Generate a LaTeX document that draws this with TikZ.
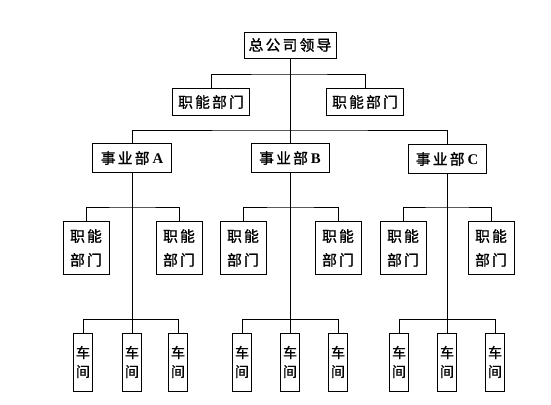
\documentclass[tikz,border=0pt]{standalone}
\usepackage{fontspec}
\setmainfont{Liberation Serif}
\newfontfamily\cjk[LetterSpace=15,FakeBold=1.2]{Noto Sans CJK SC}
\newfontfamily\cjkplain[FakeBold=1.2]{Noto Sans CJK SC}

\tikzset{
  box/.style={draw, line width=0.7pt, inner sep=0pt, font=\cjk\fontsize{10.5pt}{12pt}\selectfont},
  leadbox/.style={box, minimum width=2.3cm, minimum height=0.65cm},
  staffbox/.style={box, minimum width=1.925cm, minimum height=0.675cm},
  divbox/.style={box, minimum width=1.95cm, minimum height=0.725cm},
  unitbox/.style={box, align=center, minimum width=1.15cm, minimum height=1.325cm,
    font=\cjk\fontsize{10.5pt}{17pt}\selectfont},
  shopbox/.style={box, align=center, minimum width=0.475cm, minimum height=1.45cm,
    font=\cjkplain\fontsize{10pt}{13.5pt}\selectfont},
  link/.style={line width=0.7pt}
}
\newcommand{\lat}[1]{{\normalfont\bfseries\hspace{0.2em}#1}}

\begin{document}
\begin{tikzpicture}[x=0.025cm,y=-0.025cm]
            \useasboundingbox (0,0) rectangle (551,404);

            \node[leadbox] (lead) at (290,45) {总公司领导};
            \node[staffbox] (staffL) at (211,102) {职能部门};
            \node[staffbox] (staffR) at (365,102) {职能部门};

            \node[divbox] (divA) at (132,158) {事业部\lat{A}};
            \node[divbox] (divB) at (290,158) {事业部\lat{B}};
            \node[divbox] (divC) at (447,159) {事业部\lat{C}};

            \node[unitbox] (unitA1) at (86,248) {职能\\部门};
            \node[unitbox] (unitA2) at (179,248) {职能\\部门};
            \node[unitbox] (unitB1) at (243,248) {职能\\部门};
            \node[unitbox] (unitB2) at (338,248) {职能\\部门};
            \node[unitbox] (unitC1) at (403,248) {职能\\部门};
            \node[unitbox] (unitC2) at (491,248) {职能\\部门};

            \node[shopbox] (shopA1) at (83,362) {车\\间};
            \node[shopbox] (shopA2) at (132,362) {车\\间};
            \node[shopbox] (shopA3) at (178,362) {车\\间};
            \node[shopbox] (shopB1) at (242,362) {车\\间};
            \node[shopbox] (shopB2) at (290,362) {车\\间};
            \node[shopbox] (shopB3) at (338,362) {车\\间};
            \node[shopbox] (shopC1) at (399,362) {车\\间};
            \node[shopbox] (shopC2) at (447,362) {车\\间};
            \node[shopbox] (shopC3) at (495,362) {车\\间};

            % head office
            \coordinate (j0) at (290,74);
            \coordinate (j1) at (290,130);
            \draw[link] (lead.south) -- (divB.north);
            \draw[link] (staffL.north) |- (j0) -| (staffR.north);
            \draw[link] (divA.north) |- (j1) -| (divC.north);

            % division A
            \coordinate (jA) at (132,207);
            \coordinate (kA) at (132,319);
            \draw[link] (divA.south) -- (shopA2.north);
            \draw[link] (unitA1.north) |- (jA) -| (unitA2.north);
            \draw[link] (shopA1.north) |- (kA) -| (shopA3.north);

            % division B
            \coordinate (jB) at (290,207);
            \coordinate (kB) at (290,319);
            \draw[link] (divB.south) -- (shopB2.north);
            \draw[link] (unitB1.north) |- (jB) -| (unitB2.north);
            \draw[link] (shopB1.north) |- (kB) -| (shopB3.north);

            % division C
            \coordinate (jC) at (447,207);
            \coordinate (kC) at (447,319);
            \draw[link] (divC.south) -- (shopC2.north);
            \draw[link] (unitC1.north) |- (jC) -| (unitC2.north);
            \draw[link] (shopC1.north) |- (kC) -| (shopC3.north);
        \end{tikzpicture}
\end{document}
